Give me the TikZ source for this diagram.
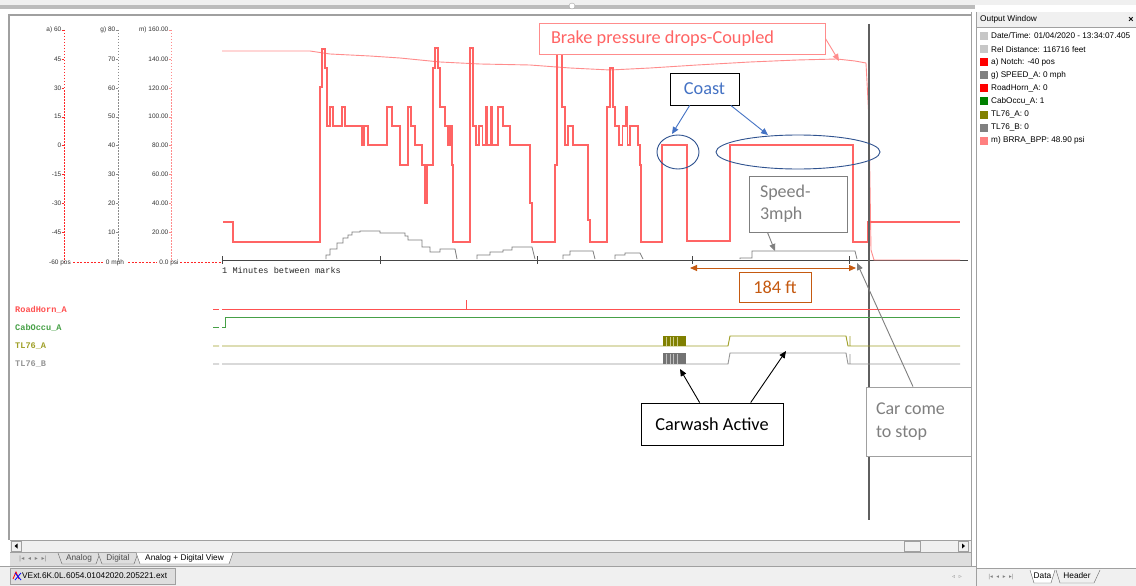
\documentclass[tikz,border=0pt]{standalone}
\usepackage{fontspec}
\setmainfont{Liberation Sans}
\newfontfamily\calfont{Carlito}
\newfontfamily\monofont{Liberation Mono}
\newfontfamily\symfont{DejaVu Sans}
\usetikzlibrary{arrows.meta,shapes.geometric}
\definecolor{notchc}{RGB}{255,100,100}
\definecolor{presc}{RGB}{255,140,140}
\definecolor{speedc}{RGB}{125,125,125}
\definecolor{axisc}{RGB}{70,70,70}
\definecolor{hornc}{RGB}{255,80,80}
\definecolor{cabc}{RGB}{70,160,70}
\definecolor{tlac}{RGB}{160,160,40}
\definecolor{tlad}{RGB}{128,128,0}
\definecolor{tlbc}{RGB}{150,150,150}
\definecolor{coastc}{RGB}{68,114,196}
\definecolor{ellc}{RGB}{47,82,143}
\definecolor{orangec}{RGB}{197,90,17}
\definecolor{chrome}{RGB}{240,240,240}
\definecolor{tabbg}{RGB}{222,222,222}
\definecolor{chromeline}{RGB}{160,160,160}
\definecolor{cursorc}{RGB}{95,95,95}
\definecolor{textgray}{RGB}{127,127,127}
\begin{document}
\begin{tikzpicture}[x=1pt,y=-1pt,
  annot/.style={draw, fill=white, line width=0.9pt, inner sep=0pt, font=\calfont\fontsize{18.3}{23}\selectfont},
  axl/.style={font=\fontsize{6.5}{7}\selectfont, inner sep=0pt, anchor=east, text=black!80},
  lg/.style={font=\fontsize{8.2}{9}\selectfont, inner sep=0pt, anchor=west},
  lgsq/.style={minimum size=8pt, inner sep=0pt},
  dig/.style={font=\monofont\bfseries\fontsize{8.6}{9}\selectfont, inner sep=0pt, anchor=west},
  tipa/.style={-{Triangle[length=7pt,width=6pt]}},
  chtext/.style={font=\fontsize{8.3}{9}\selectfont, inner sep=0pt},
]
\useasboundingbox (0,0) rectangle (1136,586);
\fill[white] (0,0) rectangle (1136,586);
% ---------- window chrome ----------
\fill[chrome] (0,0) rectangle (1136,5);
\fill[chromeline!70] (0,5) rectangle (975,9);
\node[circle, draw=chromeline, fill=white, minimum size=6pt, inner sep=0pt] (grip) at (572,6) {};
\draw[chromeline, line width=2pt] (9,14) -- (9,540);
\draw[chromeline, line width=1.2pt] (9,15) -- (971,15);
\draw[chromeline, line width=1pt] (971,12) -- (971,568);
\draw[chromeline, line width=1pt] (976,12) -- (976,586);
% output window
\fill[chrome] (977,12) rectangle (1136,27);
\draw[chromeline] (977,27.5) -- (1136,27.5);
\node[chtext, anchor=west] (owt) at (980,19.5) {Output Window};
\node[chtext, anchor=center, font=\bfseries\fontsize{9}{9}\selectfont] (owx) at (1131,19.5) {×};
% legend
\node[lgsq, fill=black!22] (s1) at (984,36) {};
\node[lg] (l1) at (991,36) {Date/Time: 01/04/2020 - 13:34:07.405};
\node[lgsq, fill=black!22] (s2) at (984,49.1) {};
\node[lg] (l2) at (991,49.1) {Rel Distance: 116716 feet};
\node[lgsq, fill=red] (s3) at (984,62.2) {};
\node[lg] (l3) at (991,62.2) {a) Notch: -40 pos};
\node[lgsq, fill=black!50] (s4) at (984,75.3) {};
\node[lg] (l4) at (991,75.3) {g) SPEED\_A: 0 mph};
\node[lgsq, fill=red] (s5) at (984,88.4) {};
\node[lg] (l5) at (991,88.4) {RoadHorn\_A: 0};
\node[lgsq, fill={rgb,255:red,0;green,128;blue,0}] (s6) at (984,101.5) {};
\node[lg] (l6) at (991,101.5) {CabOccu\_A: 1};
\node[lgsq, fill=tlad] (s7) at (984,114.6) {};
\node[lg] (l7) at (991,114.6) {TL76\_A: 0};
\node[lgsq, fill=black!50] (s8) at (984,127.7) {};
\node[lg] (l8) at (991,127.7) {TL76\_B: 0};
\node[lgsq, fill={rgb,255:red,255;green,128;blue,128}] (s9) at (984,140.8) {};
\node[lg] (l9) at (991,140.8) {m) BRRA\_BPP: 48.90 psi};
% bottom: scrollbar
\fill[chrome] (10,540) rectangle (971,552);
\draw[chromeline] (10,540) -- (971,540);
\node[draw=chromeline, fill=chrome, minimum width=10pt, minimum height=10pt, inner sep=0pt] (sbl) at (16,546) {};
\fill[black] (14.5,546) -- (17.5,543.5) -- (17.5,548.5) -- cycle;
\node[draw=chromeline, fill=chrome, minimum width=16pt, minimum height=10pt, inner sep=0pt] (thumb) at (912,546) {};
\node[draw=chromeline, fill=chrome, minimum width=10pt, minimum height=10pt, inner sep=0pt] (sbr) at (963,546) {};
\fill[black] (965,546) -- (962,543.5) -- (962,548.5) -- cycle;
% bottom: sheet tabs
\fill[tabbg] (10,552) rectangle (971,566);
\draw[chromeline] (10,552) -- (971,552);
\node[chtext, text=black!50, font=\symfont\fontsize{6}{6}\selectfont] (nav) at (33,559) {|◂ \ ◂ \ ▸ \ ▸|};
\draw[black!60, fill=tabbg] (58,553) -- (62,564) -- (96,564) -- (100,553);
\node[chtext, text=black!70] (tA) at (79,558.5) {Analog};
\draw[black!60, fill=tabbg] (98,553) -- (102,564) -- (134,564) -- (138,553);
\node[chtext, text=black!70] (tD) at (118,558.5) {Digital};
\draw[black!60, fill=white] (136,552.5) -- (140,564) -- (229,564) -- (233,552.5);
\node[chtext] (tAD) at (184.5,558) {Analog + Digital View};
% bottom: file tab
\fill[chrome] (0,566) rectangle (976,586);
\draw[chromeline] (0,566) -- (976,566);
\node[draw=chromeline, fill=tabbg, minimum width=165pt, minimum height=16pt, inner sep=0pt] (ftab) at (92.5,576) {};
\draw[red, line width=0.8pt] (13,579) -- (16,572) -- (19,579);
\draw[blue, line width=0.8pt] (15,573) -- (21,580) (21,573) -- (15,580);
\node[chtext, anchor=west, font=\fontsize{8.3}{9}\selectfont] (fname) at (22,576) {VExt.6K.0L.6054.01042020.205221.ext};
\node[chtext, text=black!45, font=\symfont\fontsize{6}{6}\selectfont] (lr) at (957,577) {◃ \ ▹};
% right panel bottom
\fill[chrome] (977,568) rectangle (1136,586);
\draw[chromeline] (977,568) -- (1136,568);
\node[chtext, text=black!50, font=\symfont\fontsize{5.5}{6}\selectfont] (nav2) at (1001,577) {|◂ \ ◂ \ ▸ \ ▸|};
\draw[black!60, fill=white] (1030,570) -- (1034,583) -- (1051,583) -- (1055,570);
\node[chtext] (tData) at (1042.5,576) {Data};
\draw[black!60, fill=chrome] (1056,570) -- (1060,583) -- (1094,583) -- (1100,570);
\node[chtext] (tHead) at (1077,576) {Header};
% ---------- left axes ----------
\draw[red!85, dash pattern=on 1.5pt off 1.5pt, line width=0.8pt] (64,30) -- (64,262);
\draw[black!45, dash pattern=on 1.5pt off 1.5pt, line width=0.8pt] (118,30) -- (118,262);
\draw[presc, dash pattern=on 1.5pt off 1.5pt, line width=0.8pt] (171,30) -- (171,262);
\foreach \v [count=\k from 0] in {a) 60,45,30,15,0,-15,-30,-45}{
  \node[axl] (aa\k) at (61.5,30+28.9*\k) {\v};
  \draw[red!85] (61.5,30+28.9*\k) -- (64,30+28.9*\k);
}
\foreach \v [count=\k from 0] in {g) 80,70,60,50,40,30,20,10}{
  \node[axl] (ag\k) at (115.5,30+28.9*\k) {\v};
  \draw[black!45] (115.5,30+28.9*\k) -- (118,30+28.9*\k);
}
\foreach \v [count=\k from 0] in {m) 160.00,140.00,120.00,100.00,80.00,60.00,40.00,20.00}{
  \node[axl] (am\k) at (168.5,30+28.9*\k) {\v};
  \draw[presc] (168.5,30+28.9*\k) -- (171,30+28.9*\k);
}
\node[axl, anchor=center] (abot) at (60,263) {-60 pos};
\node[axl, anchor=center] (gbot) at (115,263) {0 mph};
\node[axl, anchor=center] (mbot) at (169,263) {0.0 psi};
\draw[red!85, dash pattern=on 2pt off 1.5pt, line width=0.8pt] (73,262) -- (103,262) (128,262) -- (157,262) (180,262) -- (221,262);
% time axis
\draw[axisc, line width=0.9pt] (222,260) -- (968,260);
\foreach \tx in {222,380,537,692,849}{ \draw[axisc, line width=0.9pt] (\tx,256) -- (\tx,264); }
\node[dig, text=black!85, font=\monofont\fontsize{8.6}{9}\selectfont] (tlabel) at (222,270) {1 Minutes between marks};
% ---------- analog traces ----------
\draw[presc, line width=0.9pt] (222,51)--(310,51)--(330,54)--(370,56)--(400,58)--(440,62)--(480,64)--(530,65)--(570,68)--(610,70)--(650,68)--(697,65)--(750,62)--(797,60)--(837,59)--(855,61)--(866,63)--(869,120)--(871,250)--(874,260)--(960,260);
\draw[speedc, line width=0.8pt] (326,259)--(326,255)--(330,255)--(330,249)--(337,249)--(337,243)--(343,243)--(343,238)--(348,238)--(348,235)--(352,235)--(352,232)--(360,232)--(360,231)--(380,231)--(380,233)--(405,233)--(405,236)--(408,236)--(408,240)--(422,240)--(422,247)--(430,247)--(430,252)--(440,252)--(440,249)--(455,249)--(457,259);
\draw[speedc, line width=0.8pt] (477,259)--(477,255)--(490,255)--(490,252)--(503,252)--(503,250)--(512,250)--(512,247)--(532,247)--(535,259);
\draw[speedc, line width=0.8pt] (563,259)--(563,255)--(570,255)--(570,251)--(593,251)--(595,259);
\draw[speedc, line width=0.8pt] (615,259)--(615,255)--(625,255)--(625,253)--(640,253)--(643,259);
\draw[speedc, line width=0.8pt] (740,259)--(740,258)--(752,258)--(752,251)--(855,251)--(857,259);
\draw[notchc, line width=1.2pt] (223,222)--(233,222)--(233,242)--(320,242)--(320,87)--(322,87)--(322,49)--(325,49)--(325,68)--(327,68)--(327,126)--(330,126)--(330,107)--(333,107)--(333,126)--(342,126)--(342,107)--(345,107)--(345,126)--(362,126)--(362,145)--(364,145)--(364,126)--(368,126)--(368,145)--(387,145)--(387,107)--(392,107)--(392,126)--(400,126)--(400,165)--(408,165)--(408,107)--(411,107)--(411,126)--(415,126)--(415,145)--(422,145)--(422,165)--(425,165)--(425,203)--(427,203)--(427,165)--(433,165)--(433,68)--(435,68)--(435,48)--(438,48)--(438,68)--(440,68)--(440,107)--(445,107)--(445,126)--(448,126)--(448,145)--(450,145)--(450,126)--(452,126)--(452,165)--(453,165)--(453,242)--(470,242)--(470,48)--(473,48)--(473,126)--(476,126)--(476,145)--(479,145)--(479,126)--(482.5,126)--(482.5,145)--(486,145)--(486,107)--(487.5,107)--(487.5,145)--(491,145)--(491,107)--(492.5,107)--(492.5,145)--(498,145)--(498,107)--(503,107)--(503,126)--(510,126)--(510,145)--(530,145)--(530,203)--(532,203)--(532,242)--(555,242)--(555,165)--(557,165)--(557,48)--(562,48)--(562,107)--(565,107)--(565,145)--(568,145)--(568,126)--(573,126)--(573,145)--(588,145)--(588,220)--(590,220)--(590,242)--(607,242)--(607,107)--(610,107)--(610,68)--(613,68)--(613,107)--(615,107)--(615,126)--(619,126)--(619,145)--(622.5,145)--(622.5,126)--(626,126)--(626,107)--(627.5,107)--(627.5,145)--(630,145)--(630,126)--(638,126)--(638,145)--(640,145)--(640,165)--(641,165)--(641,242)--(662,242)--(662,145)--(687,145)--(687,241)--(730,241)--(730,145)--(853,145)--(853,242)--(868,242)--(868,222)--(960,222);
% cursor
\draw[cursorc, line width=1.2pt] (869,24) -- (869,520);
% ---------- digital traces ----------
\node[dig, text=hornc] (dh) at (15,309.5) {RoadHorn\_A};
\node[dig, text=cabc] (dc) at (15,327.5) {CabOccu\_A};
\node[dig, text=tlac] (dta) at (15,346.5) {TL76\_A};
\node[dig, text=tlbc] (dtb) at (15,364.5) {TL76\_B};
\draw[hornc, line width=0.9pt] (213,309) -- (219,309) (222,309) -- (960,309) (466,309) -- (466,300);
\draw[cabc, line width=0.9pt] (213,327) -- (219,327) (222,327) -- (225,327) -- (225,317) -- (960,317);
\draw[tlac, line width=0.9pt] (213,346) -- (219,346) (222,346) -- (728,346) -- (730,336) -- (846,336) -- (848,346) -- (960,346) (850,346) -- (850,336);
\fill[tlad] (663,336) rectangle (686,346);
\foreach \bx in {666,670.5,673,677}{ \draw[tlac!55, line width=0.8pt] (\bx,336.5) -- (\bx,345.5); }
\draw[tlbc, line width=0.9pt] (213,364) -- (219,364) (222,364) -- (728,364) -- (730,353) -- (846,353) -- (848,364) -- (960,364) (850,364) -- (850,354);
\fill[black!55] (663,353) rectangle (686,364);
\foreach \bx in {666,670.5,673,677}{ \draw[black!25, line width=0.8pt] (\bx,353.5) -- (\bx,363.5); }
% ---------- annotations ----------
\node[annot, draw=presc, text=notchc, minimum width=286pt, minimum height=31pt, text width=262pt, inner xsep=12pt, align=left] (brake) at (682,38.5) {\spaceskip=0pt\xspaceskip=0pt\relax Brake pressure drops-Coupled};
\coordinate (bpt) at (839,61);
\draw[tipa, presc, line width=0.9pt] (brake.east) -- (bpt);
\node[annot, text=coastc, minimum width=69pt, minimum height=32pt] (coast) at (704.5,89) {Coast};
\node[ellipse, draw=ellc, line width=0.9pt, minimum width=42pt, minimum height=34pt, inner sep=0pt] (ell1) at (678,152) {};
\node[ellipse, draw=ellc, line width=0.9pt, minimum width=164pt, minimum height=34pt, inner sep=0pt] (ell2) at (798,152) {};
\coordinate (c1) at (672,134);
\coordinate (c2) at (768,135);
\draw[tipa, coastc, line width=0.9pt] (coast.-132) -- (c1);
\draw[tipa, coastc, line width=0.9pt] (coast.-32) -- (c2);
\node[annot, draw=textgray, text=textgray, minimum width=98pt, minimum height=56pt, text width=76pt, inner xsep=11pt, align=left, font=\calfont\fontsize{18}{22}\selectfont] (speed) at (798,204) {Speed-\\3mph};
\coordinate (sp) at (775,251);
\draw[tipa, textgray, line width=0.9pt] (speed.-137) -- (sp);
\coordinate (dl) at (690,268);
\coordinate (dr) at (856,268);
\draw[{Triangle[length=7pt,width=6pt]}-{Triangle[length=7pt,width=6pt]}, orangec, line width=1pt] (dl) -- (dr);
\node[annot, draw=orangec, text=orangec, minimum width=72pt, minimum height=30pt] (dist) at (775,287) {184 ft};
\node[annot, text=black, minimum width=142pt, minimum height=42pt] (wash) at (712,424) {Carwash Active};
\coordinate (w1) at (680,369);
\coordinate (w2) at (786,351);
\draw[tipa, black, line width=0.9pt] (wash.120) -- (w1);
\draw[tipa, black, line width=0.9pt] (wash.29) -- (w2);
\node[annot, draw=chromeline, text=textgray, minimum width=105pt, minimum height=69pt, text width=85pt, inner xsep=10pt, align=left, font=\calfont\fontsize{18}{23}\selectfont] (stop) at (918.5,421.5) {\spaceskip=0pt\xspaceskip=0pt\relax Car come\\to stop};
\coordinate (st) at (857,263);
\draw[tipa, textgray, line width=0.9pt] (stop.99) -- (st);
\end{tikzpicture}
\end{document}
